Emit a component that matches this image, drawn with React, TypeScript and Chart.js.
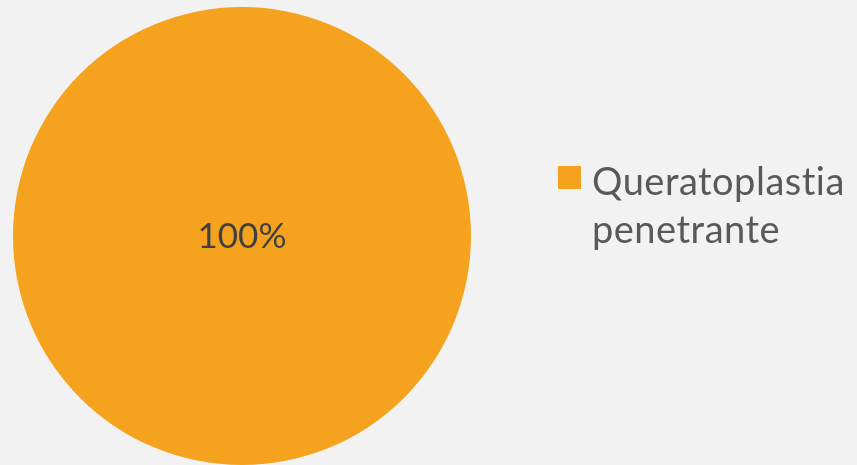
import React, { useEffect, useRef } from "react";
import { Chart, registerables } from "chart.js";

Chart.register(...registerables);

const categories: string[] = ["Queratoplastia penetrante"];
const legendLines: string[] = ["Queratoplastia", "penetrante"];
const values: number[] = [100];
const sliceLabels: string[] = ["100%"];
const colors: string[] = ["#F5A31E"];

const textPlugin = {
  id: "customText",
  afterDatasetsDraw(chart: any) {
    const ctx = chart.ctx;
    const meta = chart.getDatasetMeta(0);
    const arc = meta.data[0];
    ctx.save();
    // center label
    ctx.fillStyle = "#404040";
    ctx.font = "35px Lato";
    ctx.textAlign = "center";
    ctx.textBaseline = "alphabetic";
    ctx.fillText(sliceLabels[0], arc.x, arc.y + 12);
    // legend
    ctx.fillStyle = colors[0];
    ctx.fillRect(558, 166, 23, 23);
    ctx.fillStyle = "#595959";
    ctx.font = "38px Lato";
    (ctx as any).letterSpacing = "0.5px";
    ctx.textAlign = "left";
    ctx.fillText(legendLines[0], 592, 195);
    ctx.fillText(legendLines[1], 592, 243);
    ctx.restore();
  },
};

export default function App() {
  const ref = useRef<HTMLCanvasElement>(null);
  useEffect(() => {
    document.body.style.margin = "0";
    document.body.style.background = "#F2F2F2";
    const chart = new Chart(ref.current!, {
      type: "pie",
      data: {
        labels: categories,
        datasets: [
          {
            data: values,
            backgroundColor: colors,
            borderWidth: 0,
          },
        ],
      },
      options: {
        responsive: false,
        animation: false,
        layout: { padding: { left: 13, right: 386, top: 7, bottom: 0 } },
        plugins: {
          legend: { display: false },
          tooltip: { enabled: false },
        },
      },
      plugins: [textPlugin],
    });
    return () => chart.destroy();
  }, []);
  return (
    <div style={{ width: 857, height: 465, background: "#F2F2F2" }}>
      <canvas ref={ref} width={857} height={465} style={{ display: "block" }} />
    </div>
  );
}
